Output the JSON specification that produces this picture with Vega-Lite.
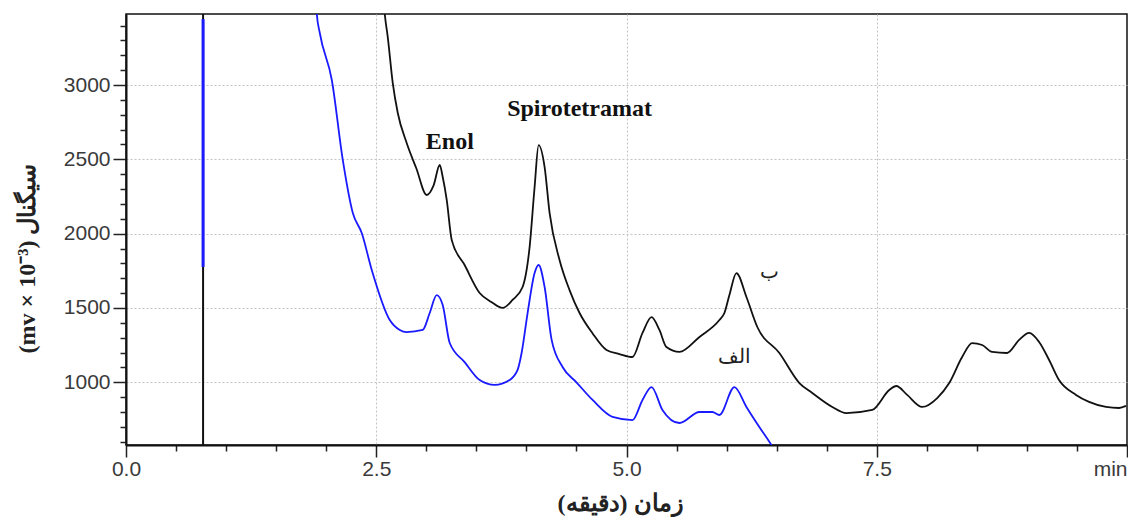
{
  "$schema": "https://vega.github.io/schema/vega-lite/v6.json",
  "width": 1001,
  "height": 431,
  "autosize": {"type": "none"},
  "padding": {"left": 126, "top": 14, "right": 1, "bottom": 72},
  "background": "white",
  "config": {
    "view": {"stroke": "#111", "strokeWidth": 1.5},
    "axis": {
      "domainColor": "#111",
      "domainWidth": 2,
      "tickColor": "#222",
      "tickWidth": 1.5,
      "labelFont": "Liberation Sans",
      "labelFontSize": 21,
      "labelColor": "#3a3a3a",
      "titleFont": "Liberation Serif",
      "titleFontSize": 24,
      "titleFontWeight": "bold",
      "titleColor": "#222",
      "gridColor": "#c4c4c4",
      "gridDash": [2, 2],
      "gridWidth": 1,
      "labelOverlap": false
    }
  },
  "datasets": {
    "curves": [
      {"t": 2.57, "v": 3600, "s": "b"}, {"t": 2.585, "v": 3478, "s": "b"}, {"t": 2.615, "v": 3323, "s": "b"},
      {"t": 2.665, "v": 3013, "s": "b"}, {"t": 2.715, "v": 2812, "s": "b"}, {"t": 2.804, "v": 2610, "s": "b"},
      {"t": 2.9, "v": 2440, "s": "b"}, {"t": 3.004, "v": 2260, "s": "b"}, {"t": 3.074, "v": 2327, "s": "b"},
      {"t": 3.134, "v": 2462, "s": "b"}, {"t": 3.164, "v": 2381, "s": "b"}, {"t": 3.204, "v": 2227, "s": "b"},
      {"t": 3.254, "v": 1958, "s": "b"}, {"t": 3.383, "v": 1789, "s": "b"}, {"t": 3.533, "v": 1601, "s": "b"},
      {"t": 3.65, "v": 1540, "s": "b"}, {"t": 3.763, "v": 1500, "s": "b"}, {"t": 3.862, "v": 1554, "s": "b"},
      {"t": 3.962, "v": 1641, "s": "b"}, {"t": 4.032, "v": 1910, "s": "b"}, {"t": 4.082, "v": 2314, "s": "b"},
      {"t": 4.122, "v": 2596, "s": "b"}, {"t": 4.182, "v": 2448, "s": "b"}, {"t": 4.232, "v": 2138, "s": "b"},
      {"t": 4.331, "v": 1823, "s": "b"}, {"t": 4.431, "v": 1620, "s": "b"}, {"t": 4.531, "v": 1466, "s": "b"},
      {"t": 4.66, "v": 1330, "s": "b"}, {"t": 4.8, "v": 1217, "s": "b"}, {"t": 4.93, "v": 1190, "s": "b"},
      {"t": 5.06, "v": 1170, "s": "b"}, {"t": 5.16, "v": 1332, "s": "b"}, {"t": 5.25, "v": 1439, "s": "b"},
      {"t": 5.329, "v": 1352, "s": "b"}, {"t": 5.399, "v": 1237, "s": "b"}, {"t": 5.529, "v": 1204, "s": "b"},
      {"t": 5.729, "v": 1305, "s": "b"}, {"t": 5.928, "v": 1419, "s": "b"}, {"t": 5.978, "v": 1466, "s": "b"},
      {"t": 6.028, "v": 1587, "s": "b"}, {"t": 6.098, "v": 1735, "s": "b"}, {"t": 6.198, "v": 1574, "s": "b"},
      {"t": 6.307, "v": 1372, "s": "b"}, {"t": 6.527, "v": 1197, "s": "b"}, {"t": 6.727, "v": 995, "s": "b"},
      {"t": 6.856, "v": 928, "s": "b"}, {"t": 7.056, "v": 834, "s": "b"}, {"t": 7.196, "v": 793, "s": "b"},
      {"t": 7.455, "v": 814, "s": "b"}, {"t": 7.625, "v": 948, "s": "b"}, {"t": 7.695, "v": 975, "s": "b"},
      {"t": 7.804, "v": 915, "s": "b"}, {"t": 7.954, "v": 834, "s": "b"}, {"t": 8.104, "v": 894, "s": "b"},
      {"t": 8.224, "v": 995, "s": "b"}, {"t": 8.353, "v": 1170, "s": "b"}, {"t": 8.453, "v": 1264, "s": "b"},
      {"t": 8.553, "v": 1251, "s": "b"}, {"t": 8.653, "v": 1204, "s": "b"}, {"t": 8.802, "v": 1197, "s": "b"},
      {"t": 8.922, "v": 1285, "s": "b"}, {"t": 9.022, "v": 1332, "s": "b"}, {"t": 9.122, "v": 1271, "s": "b"},
      {"t": 9.222, "v": 1150, "s": "b"}, {"t": 9.321, "v": 1015, "s": "b"}, {"t": 9.491, "v": 915, "s": "b"},
      {"t": 9.621, "v": 868, "s": "b"}, {"t": 9.79, "v": 834, "s": "b"}, {"t": 9.92, "v": 827, "s": "b"},
      {"t": 9.99, "v": 841, "s": "b"},
      {"t": 1.9, "v": 3600, "s": "a"}, {"t": 1.906, "v": 3478, "s": "a"}, {"t": 1.936, "v": 3350, "s": "a"},
      {"t": 2.056, "v": 3034, "s": "a"}, {"t": 2.166, "v": 2495, "s": "a"}, {"t": 2.266, "v": 2139, "s": "a"},
      {"t": 2.355, "v": 2004, "s": "a"}, {"t": 2.455, "v": 1756, "s": "a"}, {"t": 2.635, "v": 1419, "s": "a"},
      {"t": 2.735, "v": 1352, "s": "a"}, {"t": 2.804, "v": 1338, "s": "a"}, {"t": 2.964, "v": 1352, "s": "a"},
      {"t": 3.034, "v": 1466, "s": "a"}, {"t": 3.104, "v": 1587, "s": "a"}, {"t": 3.164, "v": 1520, "s": "a"},
      {"t": 3.234, "v": 1264, "s": "a"}, {"t": 3.383, "v": 1136, "s": "a"}, {"t": 3.533, "v": 1015, "s": "a"},
      {"t": 3.683, "v": 982, "s": "a"}, {"t": 3.832, "v": 1015, "s": "a"}, {"t": 3.912, "v": 1083, "s": "a"},
      {"t": 3.952, "v": 1197, "s": "a"}, {"t": 4.012, "v": 1466, "s": "a"}, {"t": 4.082, "v": 1735, "s": "a"},
      {"t": 4.122, "v": 1789, "s": "a"}, {"t": 4.182, "v": 1641, "s": "a"}, {"t": 4.252, "v": 1285, "s": "a"},
      {"t": 4.361, "v": 1103, "s": "a"}, {"t": 4.5, "v": 1000, "s": "a"}, {"t": 4.661, "v": 881, "s": "a"},
      {"t": 4.86, "v": 767, "s": "a"}, {"t": 5.06, "v": 746, "s": "a"}, {"t": 5.16, "v": 881, "s": "a"},
      {"t": 5.25, "v": 968, "s": "a"}, {"t": 5.359, "v": 814, "s": "a"}, {"t": 5.529, "v": 726, "s": "a"},
      {"t": 5.729, "v": 800, "s": "a"}, {"t": 5.858, "v": 800, "s": "a"}, {"t": 5.928, "v": 780, "s": "a"},
      {"t": 6.078, "v": 968, "s": "a"}, {"t": 6.198, "v": 834, "s": "a"}, {"t": 6.327, "v": 699, "s": "a"},
      {"t": 6.447, "v": 578, "s": "a"}, {"t": 6.53, "v": 480, "s": "a"}
    ],
    "vline": [
      {"t": 0.77, "v": 578, "v2": 3478, "s": "b"},
      {"t": 0.77, "v": 1776, "v2": 3444, "s": "a"}
    ],
    "notes": [
      {"t": 3.235, "v": 2617, "label": "Enol", "k": "en"},
      {"t": 4.531, "v": 2838, "label": "Spirotetramat", "k": "en"},
      {"t": 6.43, "v": 1742, "label": "ب", "k": "fa"},
      {"t": 6.08, "v": 1170, "label": "الف", "k": "fa"}
    ]
  },
  "encoding": {
    "x": {
      "field": "t", "type": "quantitative",
      "scale": {"domain": [0, 10], "nice": false, "zero": false},
      "axis": {
        "values": [0, 0.5, 1, 1.5, 2, 2.5, 3, 3.5, 4, 4.5, 5, 5.5, 6, 6.5, 7, 7.5, 8, 8.5, 9, 9.5, 10],
        "title": "زمان (دقیقه)‏",
        "titleX": 494,
        "titleY": 58,
        "titleBaseline": "middle",
        "titleAlign": "center",
        "labelExpr": "datum.value % 2.5 === 0 ? (datum.value === 10 ? 'min' : format(datum.value, '.1f')) : ''",
        "labelAlign": {"condition": {"test": "datum.value === 10", "value": "right"}, "value": "center"},
        "labelPadding": 1,
        "tickSize": {"condition": {"test": "datum.value % 2.5 === 0", "value": 12}, "value": 6},
        "grid": true,
        "gridOpacity": {"condition": {"test": "datum.value % 2.5 === 0 && datum.value > 0 && datum.value < 10", "value": 1}, "value": 0}
      }
    },
    "y": {
      "field": "v", "type": "quantitative",
      "scale": {"domain": [578, 3478], "nice": false, "zero": false},
      "axis": {
        "values": [600, 700, 800, 900, 1000, 1100, 1200, 1300, 1400, 1500, 1600, 1700, 1800, 1900, 2000, 2100, 2200, 2300, 2400, 2500, 2600, 2700, 2800, 2900, 3000, 3100, 3200, 3300, 3400],
        "title": "(mv × 10⁻³) سیگنال",
        "titleAngle": 270,
        "titleX": -99,
        "titleY": 244,
        "titleBaseline": "middle",
        "titleAlign": "center",
        "labelExpr": "datum.value % 500 === 0 ? format(datum.value, 'd') : ''",
        "labelPadding": 3,
        "tickSize": {"condition": {"test": "datum.value % 500 === 0", "value": 13}, "value": 6},
        "grid": true,
        "gridOpacity": {"condition": {"test": "datum.value % 500 === 0", "value": 1}, "value": 0}
      }
    }
  },
  "layer": [
    {
      "data": {"name": "curves"},
      "mark": {"type": "line", "clip": true, "strokeWidth": 1.8, "interpolate": "monotone"},
      "encoding": {
        "color": {
          "field": "s", "type": "nominal",
          "scale": {"domain": ["b", "a"], "range": ["#111111", "#1a1aff"]},
          "legend": null
        },
        "order": {"field": "t", "type": "quantitative"}
      }
    },
    {
      "data": {"name": "vline"},
      "mark": {"type": "rule", "clip": true},
      "encoding": {
        "y2": {"field": "v2"},
        "color": {"field": "s", "type": "nominal", "legend": null},
        "strokeWidth": {"field": "s", "type": "nominal", "scale": {"domain": ["b", "a"], "range": [2, 3]}, "legend": null}
      }
    },
    {
      "data": {"name": "notes"},
      "transform": [{"filter": "datum.k === 'en'"}],
      "mark": {"type": "text", "font": "Liberation Serif", "fontSize": 24, "fontWeight": "bold", "color": "#111", "align": "center", "baseline": "middle"},
      "encoding": {
        "text": {"field": "label"}
      }
    },
    {
      "data": {"name": "notes"},
      "transform": [{"filter": "datum.k === 'fa'"}],
      "mark": {"type": "text", "font": "Liberation Serif", "fontSize": 20, "color": "#222", "align": "center", "baseline": "middle"},
      "encoding": {
        "text": {"field": "label"}
      }
    }
  ]
}
